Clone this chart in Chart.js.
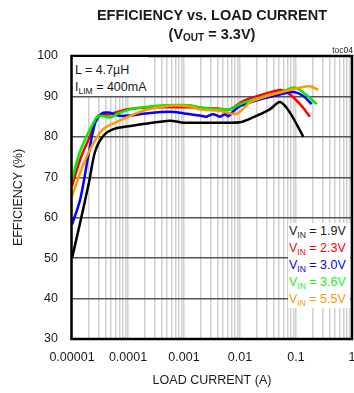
<!DOCTYPE html>
<html>
<head>
<meta charset="utf-8">
<script src="https://cdn.jsdelivr.net/npm/chart.js@4"></script>
<style>
body { margin: 0; background: #fff; font-family: "Liberation Sans", Arial, sans-serif; color: #1a1a1a; }
#wrap { position: relative; width: 354px; height: 393px; }
#title { position: absolute; left: 72px; width: 280px; top: 6px; text-align: center; font-weight: bold; font-size: 14.5px; line-height: 19px; }
#title .sub { font-size: 10px; position: relative; top: 2px; line-height: 0; }
#toc { position: absolute; right: 1px; top: 45px; font-size: 8.5px; line-height: 10px; }
.box { position: absolute; background: #fff; font-size: 12.5px; line-height: 17px; white-space: nowrap; }
.box .sub { font-size: 8.5px; position: relative; top: 3px; line-height: 0; }
#note { left: 73px; top: 57px; width: 73px; height: 34px; padding: 5px 0 0 2px; }
#legend { left: 288px; top: 223px; width: 61px; height: 85px; padding-left: 1px; }
</style>
</head>
<body>
<div id="wrap">
  <canvas id="chart" width="354" height="393"></canvas>
  <div id="title">EFFICIENCY vs. LOAD CURRENT<br>(V<span class="sub">OUT</span> = 3.3V)</div>
  <div id="toc">toc04</div>
  <div id="note" class="box">L = 4.7µH<br>I<span class="sub">LIM</span> = 400mA</div>
  <div id="legend" class="box"></div>
</div>
<script>
// tick labels (x axis decades)
const decadeTicks = [0.00001, 0.0001, 0.001, 0.01, 0.1, 1];
const decadeLabels = ['0.00001', '0.0001', '0.001', '0.01', '0.1', '1'];

// series: load current (A) and efficiency (%)
const vinLabels = ['1.9V', '2.3V', '3.0V', '3.6V', '5.5V'];
const vinColors = ['#000000', '#ff0000', '#0000ff', '#00ee00', '#ff9900'];
const textColors = ['#1a1a1a', '#ff0000', '#0000ff', '#22ee22', '#ff9900'];

const i19 = [0.00001, 0.000014, 0.00002, 0.000026, 0.000036, 0.000055, 0.00011, 0.00025, 0.00056, 0.001, 0.002, 0.005, 0.01, 0.017, 0.034, 0.052, 0.078, 0.135];
const e19 = [50, 58.8, 68.6, 76.5, 80.2, 81.9, 82.7, 83.4, 84.0, 83.5, 83.5, 83.5, 83.6, 84.8, 86.8, 88.6, 86.0, 80.0];

const i23 = [0.00001, 0.000014, 0.000021, 0.0000295, 0.000048, 0.000095, 0.0003, 0.001, 0.002, 0.004, 0.0066, 0.0115, 0.023, 0.052, 0.07, 0.118, 0.177];
const e23 = [67.8, 74.4, 80.2, 85.2, 85.6, 86.8, 87.3, 87.3, 87.2, 87.0, 86.8, 88.9, 90.3, 91.6, 91.0, 88.1, 85.0];

const i30 = [0.00001, 0.000014, 0.0000195, 0.000026, 0.000034, 0.000045, 0.000072, 0.00011, 0.00021, 0.00056, 0.001, 0.0019, 0.0025, 0.0033, 0.0044, 0.0054, 0.0062, 0.0076, 0.01, 0.023, 0.052, 0.089, 0.135, 0.19];
const e30 = [58.3, 64.5, 75.2, 83.5, 85.8, 86.0, 85.2, 85.3, 85.8, 86.2, 85.8, 85.3, 85.0, 85.6, 85.0, 85.6, 85.1, 86.3, 87.6, 89.3, 90.5, 91.1, 90.1, 88.1];

const i36 = [0.00001, 0.000014, 0.000026, 0.000032, 0.000048, 0.000063, 0.00011, 0.00043, 0.0013, 0.002, 0.0066, 0.01, 0.023, 0.052, 0.096, 0.155, 0.234];
const e36 = [69.4, 76.5, 84.3, 85.2, 84.8, 85.6, 86.8, 87.8, 87.8, 87.2, 86.8, 88.1, 89.7, 91.0, 92.2, 90.3, 88.1];

const i55 = [0.00001, 0.000014, 0.000021, 0.000036, 0.000063, 0.00011, 0.00021, 0.00056, 0.0013, 0.0019, 0.0044, 0.0087, 0.015, 0.03, 0.068, 0.118, 0.178, 0.25];
const e55 = [65.3, 71.1, 76.9, 81.9, 83.7, 85.2, 86.7, 87.7, 87.5, 86.8, 86.4, 85.7, 88.5, 90.1, 91.4, 92.2, 92.5, 91.6];

const currents = [i19, i23, i30, i36, i55];
const efficiencies = [e19, e23, e30, e36, e55];
const drawOrder = [5, 4, 3, 2, 1];

// vertical grid at 1..9 of each decade
const gridValues = [];
decadeTicks.slice(0, -1).forEach(d => {
    for (let m = 1; m <= 9; m++) gridValues.push(m * d);
});
gridValues.push(decadeTicks[decadeTicks.length - 1]);

// legend text
document.getElementById('legend').innerHTML = vinLabels.map((v, i) =>
    `<div style="color:${textColors[i]}">V<span class="sub">IN</span> = ${v}</div>`
).join('');

// frame around the plot area
const framePlugin = {
    id: 'frame',
    afterDatasetsDraw(chart) {
        const a = chart.chartArea;
        const ctx = chart.ctx;
        ctx.save();
        ctx.strokeStyle = '#000';
        ctx.lineWidth = 2.5;
        ctx.strokeRect(a.left - 0.5, a.top, a.right - a.left + 0.5, a.bottom - a.top);
        ctx.restore();
    }
};

const fontFamily = '"Liberation Sans", Arial, sans-serif';

new Chart(document.getElementById('chart'), {
    type: 'line',
    data: {
        datasets: vinLabels.map((v, i) => ({
            label: 'VIN = ' + v,
            data: currents[i].map((x, k) => ({ x: x, y: efficiencies[i][k] })),
            borderColor: vinColors[i],
            borderWidth: 2.5,
            pointRadius: 0,
            tension: 0.3,
            fill: false,
            order: drawOrder[i]
        }))
    },
    options: {
        responsive: false,
        animation: false,
        layout: { padding: { top: 56, right: 2, bottom: 0, left: 0 } },
        plugins: {
            legend: { display: false },
            title: { display: false },
            tooltip: { enabled: false }
        },
        scales: {
            x: {
                type: 'logarithmic',
                min: 0.00001,
                max: 1,
                afterBuildTicks: scale => { scale.ticks = gridValues.map(v => ({ value: v })); },
                afterFit: scale => {
                    scale.height = 54;
                    scale.paddingLeft = 0;
                    scale.paddingRight = 0;
                },
                ticks: {
                    autoSkip: false,
                    maxRotation: 0,
                    padding: 11,
                    color: '#1a1a1a',
                    font: { family: fontFamily, size: 12.5 },
                    callback: value => {
                        const k = decadeTicks.indexOf(value);
                        return k >= 0 ? decadeLabels[k] : '';
                    }
                },
                grid: { color: '#cfcfcf', lineWidth: 1.5, drawTicks: false },
                border: { display: false },
                title: {
                    display: true,
                    text: 'LOAD CURRENT (A)',
                    color: '#1a1a1a',
                    font: { family: fontFamily, size: 12.5 },
                    padding: { top: 0, bottom: 4.5 }
                }
            },
            y: {
                min: 30,
                max: 100,
                afterFit: scale => { scale.width = 72; },
                ticks: {
                    stepSize: 10,
                    padding: 14,
                    color: '#1a1a1a',
                    font: { family: fontFamily, size: 12.5 }
                },
                grid: { color: '#555555', lineWidth: 1.5, drawTicks: false },
                border: { display: false },
                title: {
                    display: true,
                    text: 'EFFICIENCY (%)',
                    color: '#1a1a1a',
                    font: { family: fontFamily, size: 12.5 },
                    padding: { top: 11, bottom: 0 }
                }
            }
        }
    },
    plugins: [framePlugin]
});
</script>
</body>
</html>
